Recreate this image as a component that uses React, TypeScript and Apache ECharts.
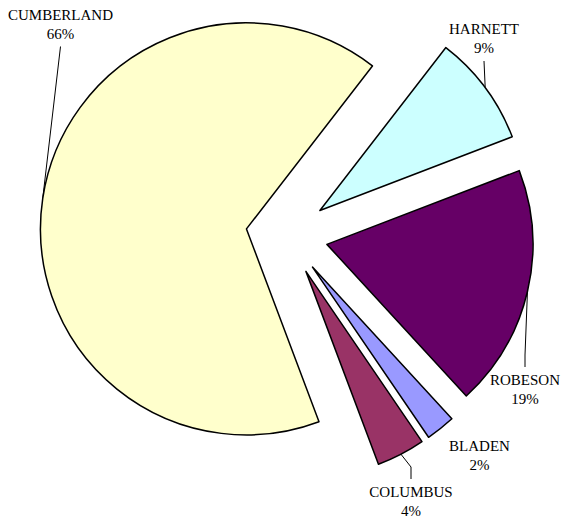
import React, { useEffect, useRef } from "react";
import * as echarts from "echarts";

const categories = ["HARNETT", "ROBESON", "BLADEN", "COLUMBUS", "CUMBERLAND"];
const values = [8.7, 19.0, 2.3, 3.8, 66.2];
const colors = ["#CCFFFF", "#660066", "#9999FF", "#993366", "#FFFFCC"];

// label anchor positions (centre of the two-line label block)
const labelPos: number[][] = [
  [484, 38.5],
  [525, 389.5],
  [479.5, 455.5],
  [411, 501.5],
  [60.5, 24],
];
const showLine = [true, true, false, true, true];

const CX = 287;
const CY = 235;
const R = 206;
const EXPLODE = 41;
const START = 52.3;

export default function App() {
  const ref = useRef<HTMLDivElement>(null);
  useEffect(() => {
    if (!ref.current) return;
    document.body.style.margin = "0";
    const chart = echarts.init(ref.current, undefined, { renderer: "svg" });
    const font = "'Liberation Serif', 'Times New Roman', serif";
    const total = values.reduce((a, b) => a + b, 0);
    let cum = 0;
    const series = categories.map((name, i) => {
      const s = START - (360 * cum) / total;
      const e = s - (360 * values[i]) / total;
      cum += values[i];
      const mid = ((s + e) / 2) * (Math.PI / 180);
      const cx = CX + EXPLODE * Math.cos(mid);
      const cy = CY - EXPLODE * Math.sin(mid);
      const arcPt = [cx + R * Math.cos(mid), cy - R * Math.sin(mid)];
      const pct = Math.round((values[i] / total) * 100);
      return {
        type: "pie",
        name,
        left: 0,
        top: 0,
        right: 0,
        bottom: 0,
        center: [cx, cy],
        radius: R,
        startAngle: s,
        endAngle: e,
        clockwise: true,
        avoidLabelOverlap: false,
        emphasis: { disabled: true },
        itemStyle: { color: colors[i], borderColor: "#000000", borderWidth: 1.5 },
        label: {
          show: true,
          position: "outside",
          fontFamily: font,
          fontSize: 15,
          lineHeight: 19,
          color: "#000000",
          align: "center",
          formatter: () => `${name}\n${pct}%`,
        },
        labelLine: {
          show: showLine[i],
          lineStyle: { color: "#000000", width: 1 },
        },
        labelLayout: () => {
          const [lx, ly] = labelPos[i];
          const below = arcPt[1] < ly;
          const ay = below ? ly - 22.5 : ly + 22.5;
          const pts = below && Math.abs(arcPt[0] - lx) < 20
            ? [arcPt, [lx, ay - 12], [lx, ay]]
            : [arcPt, arcPt, [lx, ay]];
          return {
            x: lx,
            y: ly,
            align: "center",
            verticalAlign: "middle",
            labelLinePoints: pts,
          };
        },
        data: [{ name, value: values[i] }],
      };
    });
    chart.setOption({
      animation: false,
      backgroundColor: "#ffffff",
      tooltip: { show: false },
      series,
    });
    return () => chart.dispose();
  }, []);
  return <div ref={ref} style={{ width: 563, height: 520 }} />;
}
